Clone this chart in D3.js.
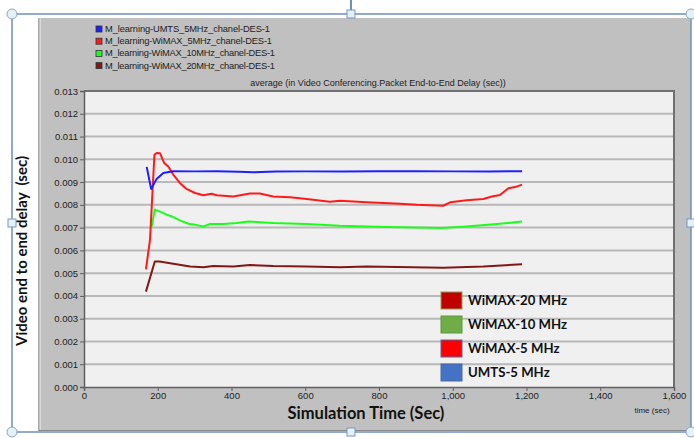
<!DOCTYPE html>
<html><head><meta charset="utf-8">
<script src="https://cdn.jsdelivr.net/npm/d3@7"></script>
<style>
html,body{margin:0;padding:0;background:#fff;}
svg{display:block;}
</style></head>
<body>
<svg id="c" width="694" height="438"></svg>
<script>
// ---- data ----
const xTicks = [0,200,400,600,800,1000,1200,1400,1600];
const yTicks = [0,0.001,0.002,0.003,0.004,0.005,0.006,0.007,0.008,0.009,0.010,0.011,0.012,0.013];
const seriesNames = ["M_learning-UMTS_5MHz_chanel-DES-1","M_learning-WiMAX_5MHz_chanel-DES-1","M_learning-WiMAX_10MHz_chanel-DES-1","M_learning-WiMAX_20MHz_chanel-DES-1"];
const seriesColors = ["#1f1fff","#ff1a1a","#1aff1a","#801818"];
const umts5 = [[170,0.00967],[182,0.0087],[197,0.00914],[215,0.0094],[242,0.00948],[300,0.00947],[360,0.00948],[420,0.00945],[460,0.00943],[520,0.00946],[600,0.00947],[700,0.00947],[800,0.00948],[900,0.00948],[1000,0.00947],[1100,0.00947],[1188,0.00948]];
const wimax5 = [[168,0.00517],[179,0.00647],[191,0.0102],[197,0.01028],[206,0.01027],[217,0.00985],[229,0.00967],[242,0.00933],[260,0.00896],[278,0.0087],[301,0.00852],[324,0.00842],[346,0.00849],[360,0.00842],[405,0.00837],[450,0.0085],[477,0.0085],[513,0.00837],[559,0.00833],[604,0.00826],[667,0.00814],[694,0.00818],[767,0.00811],[857,0.00805],[902,0.008],[974,0.00796],[993,0.00811],[1038,0.0082],[1083,0.00826],[1106,0.00837],[1128,0.00843],[1151,0.00873],[1169,0.00878],[1188,0.00889]];
const wimax10 = [[183,0.0070],[192,0.00779],[211,0.00767],[224,0.00757],[238,0.00749],[260,0.00732],[283,0.00717],[306,0.00711],[324,0.00705],[342,0.00716],[378,0.00716],[414,0.0072],[446,0.00727],[477,0.00724],[513,0.0072],[604,0.00716],[694,0.00708],[767,0.00705],[857,0.00702],[970,0.00698],[1038,0.00705],[1128,0.00717],[1188,0.00727]];
const wimax20 = [[168,0.00419],[192,0.00551],[205,0.00551],[242,0.00541],[288,0.00529],[324,0.00526],[350,0.00531],[405,0.00529],[450,0.00536],[513,0.00531],[604,0.00529],[694,0.00526],[767,0.00529],[974,0.00524],[1083,0.00529],[1188,0.00539]];
const allSeries = [umts5, wimax5, wimax10, wimax20];
const legend2Labels = ["WiMAX-20 MHz","WiMAX-10 MHz","WiMAX-5 MHz","UMTS-5 MHz"];
const legend2Colors = ["#c00000","#70ad47","#ff0000","#4472c4"];
const legend2Borders = ["#8aa050","#5a9a3a","#4a6aa0","#4a6aa0"];

// ---- drawing ----
const svg = d3.select("#c");
const x = d3.scaleLinear().domain([0,1600]).range([84,674]);
const y = d3.scaleLinear().domain([0,0.013]).range([387,91]);

// gray panel
svg.append("rect").attr("x",38).attr("y",18).attr("width",653).attr("height",413).attr("fill","#c0c0c0");
svg.append("line").attr("x1",38.5).attr("x2",38.5).attr("y1",18).attr("y2",431).attr("stroke","#a8a8a8").attr("stroke-width",1);
svg.append("line").attr("x1",40.5).attr("x2",40.5).attr("y1",18).attr("y2",431).attr("stroke","#d8d8d8").attr("stroke-width",1);
svg.append("line").attr("x1",38).attr("x2",691).attr("y1",430.5).attr("y2",430.5).attr("stroke","#8a8a8a").attr("stroke-width",1);

// plot background
svg.append("rect").attr("x",x(0)).attr("y",y(0.013)).attr("width",x(1600)-x(0)).attr("height",y(0)-y(0.013)).attr("fill","#f0f0f0");

// grid
svg.append("g").selectAll("line").data(yTicks.slice(1,-1)).join("line")
  .attr("x1",x(0)).attr("x2",x(1600)).attr("y1",d=>y(d)).attr("y2",d=>y(d))
  .attr("stroke","#b8b8b8").attr("stroke-width",2);

// plot border top/right
svg.append("line").attr("x1",x(0)).attr("x2",x(1600)+1).attr("y1",y(0.013)).attr("y2",y(0.013)).attr("stroke","#707070").attr("stroke-width",2);
svg.append("line").attr("x1",x(1600)).attr("x2",x(1600)).attr("y1",y(0.013)).attr("y2",y(0)).attr("stroke","#707070").attr("stroke-width",2);

// axes
const yAxis = d3.axisLeft(y).tickValues(yTicks).tickFormat(d3.format(".3f")).tickSize(4).tickPadding(2);
const gy = svg.append("g").attr("transform",`translate(${x(0)},0)`).call(yAxis);
const xAxis = d3.axisBottom(x).tickValues(xTicks).tickFormat(d3.format(",")).tickSize(4).tickPadding(1);
const gx = svg.append("g").attr("transform",`translate(0,${y(0)})`).call(xAxis);
[gx,gy].forEach(g=>{
  g.selectAll("path").attr("stroke","#606060").attr("stroke-width",1.5);
  g.selectAll("line").attr("stroke","#606060");
  g.selectAll("text").attr("font-family","Liberation Sans, Arial, sans-serif").attr("font-size",9.5).attr("fill","#222");
});

// lines
const line = d3.line().x(d=>x(d[0])).y(d=>y(d[1]));
// draw order: dark red, green, red, blue
[3,2,1,0].forEach(i=>{
  svg.append("path").datum(allSeries[i]).attr("d",line).attr("fill","none")
    .attr("stroke",seriesColors[i]).attr("stroke-width",2).attr("stroke-linejoin","round");
});

// title
svg.append("text").attr("x",378).attr("y",86).attr("text-anchor","middle")
  .attr("font-family","Liberation Sans, Arial, sans-serif").attr("font-size",9).attr("fill","#222")
  .text("average (in Video Conferencing.Packet End-to-End Delay (sec))");

// top legend
const lg = svg.append("g");
seriesNames.forEach((n,i)=>{
  const yy = 26 + i*12.2;
  lg.append("rect").attr("x",96).attr("y",yy).attr("width",6).attr("height",6)
    .attr("fill",seriesColors[i]).attr("stroke","#333").attr("stroke-width",0.8);
  lg.append("text").attr("x",105).attr("y",yy+6).attr("font-family","Liberation Sans, Arial, sans-serif")
    .attr("font-size",9.3).attr("fill","#222").attr("textLength",i===0?165:(i===1?167:170)).text(n);
});

// bottom legend
const lg2 = svg.append("g");
const l2y = [292,316,340,364];
legend2Labels.forEach((n,i)=>{
  lg2.append("rect").attr("x",441).attr("y",l2y[i]).attr("width",21).attr("height",17)
    .attr("fill",legend2Colors[i]).attr("stroke",legend2Borders[i]).attr("stroke-width",1);
  lg2.append("text").attr("x",468).attr("y",l2y[i]+13).attr("font-family","Lato, Carlito, sans-serif")
    .attr("font-weight","bold").attr("font-size",13.2).attr("fill","#111").text(n);
});

// axis titles
svg.append("text").attr("x",366).attr("y",419).attr("text-anchor","middle")
  .attr("font-family","Lato, sans-serif").attr("font-weight","bold").attr("font-size",16.5).attr("fill","#111")
  .text("Simulation Time (Sec)");
svg.append("text").attr("x",652).attr("y",413).attr("text-anchor","middle")
  .attr("font-family","Liberation Sans, Arial, sans-serif").attr("font-size",8).attr("fill","#222")
  .text("time (sec)");
svg.append("text").attr("transform","translate(27,251) rotate(-90)").attr("text-anchor","middle")
  .attr("font-family","Lato, sans-serif").attr("font-weight","bold").attr("font-size",15).attr("fill","#111")
  .style("white-space","pre").text("Video end to end delay  (sec)");

// selection frame + handles
const fc = "#6f90b8";
svg.append("line").attr("x1",351).attr("x2",351).attr("y1",0).attr("y2",14).attr("stroke",fc).attr("stroke-width",2);
svg.append("rect").attr("x",12).attr("y",14).attr("width",679).attr("height",418).attr("fill","none").attr("stroke",fc).attr("stroke-width",1.5);
[[12,14],[691,14],[12,432],[691,432]].forEach(p=>{
  svg.append("circle").attr("cx",p[0]).attr("cy",p[1]).attr("r",5).attr("fill","#e4f2f8").attr("stroke","#8aa4c0").attr("stroke-width",1);
});
[[351,14],[351,432],[12,223],[691,223]].forEach(p=>{
  svg.append("rect").attr("x",p[0]-4).attr("y",p[1]-4).attr("width",8).attr("height",8).attr("fill","#e4f2f8").attr("stroke","#7896bc").attr("stroke-width",1);
});
</script>
</body></html>
